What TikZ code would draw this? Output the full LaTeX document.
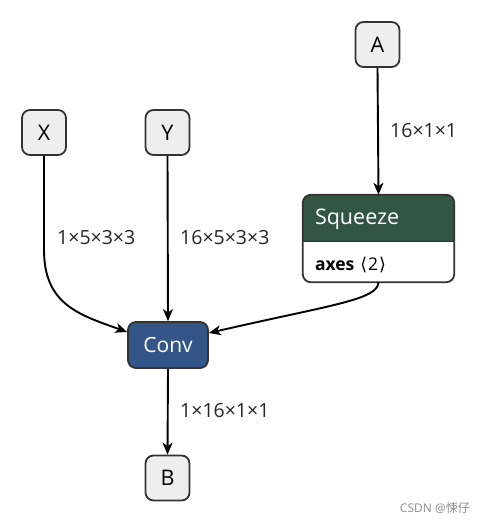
\documentclass[tikz,border=0pt]{standalone}
\usepackage{fontspec}
\setmainfont{Open Sans}
\newfontfamily\dejavu{DejaVu Sans}
\newfontfamily\cjk{Noto Sans CJK SC}
\usetikzlibrary{arrows.meta,calc}
\definecolor{boxfill}{HTML}{EEEEEE}
\definecolor{boxline}{HTML}{333333}
\definecolor{sqgreen}{HTML}{335544}
\definecolor{convblue}{HTML}{335588}
\begin{document}
\begin{tikzpicture}[x=1pt,y=-1pt,
  io/.style={draw=boxline,line width=1.8pt,fill=boxfill,rounded corners=8pt,minimum width=44pt,minimum height=45pt,inner sep=0pt,font=\fontsize{21.5}{25}\selectfont},
  opnode/.style={draw=boxline,line width=1.8pt,fill=convblue,rounded corners=8pt,minimum width=80pt,minimum height=46pt,inner sep=0pt,text=white,font=\fontsize{21}{25}\selectfont},
  edge/.style={line width=1.9pt,-{Stealth[length=12pt,width=10pt,inset=3.5pt]}},
  lbl/.style={font=\fontsize{19.5}{23}\selectfont,anchor=west,inner sep=0pt,text=black!85}]
\useasboundingbox (0,0) rectangle (484,524);
\node[io] (X) at (44,132.5) {X};
\node[io] (Y) at (167.5,132.5) {Y};
\node[io] (A) at (377.5,44.5) {A};
\node[io] (B) at (167.5,478) {B};
\node[opnode] (conv) at (168,345) {Conv};
% Squeeze node
\node[minimum width=151pt,minimum height=87pt,inner sep=0pt] (sq) at (378.5,238.5) {};
\begin{scope}
\clip[rounded corners=8pt] (sq.north west) rectangle (sq.south east);
\fill[white] (sq.north west) rectangle (sq.south east);
\fill[sqgreen] (sq.north west) rectangle ($(sq.north east)+(0,47)$);
\end{scope}
\draw[boxline,line width=1.2pt] ($(sq.north west)+(0,47)$) -- ($(sq.north east)+(0,47)$);
\draw[boxline,line width=1.8pt,rounded corners=8pt] (sq.north west) rectangle (sq.south east);
\node[anchor=west,inner sep=0pt,text=white,font=\fontsize{21.5}{25}\selectfont] (sqt) at ($(sq.north west)+(12,24)$) {Squeeze};
\node[anchor=west,inner sep=0pt,font=\fontsize{17.5}{21}\selectfont] (sqa) at ($(sq.north west)+(12,70)$) {\textbf{axes}\hspace{6pt}{\dejavu ⟨}\hspace{1pt}2\hspace{1pt}{\dejavu ⟩}};
% edges
\coordinate (cw) at ($(conv.west)+(0,-13)$);
\coordinate (ce) at ($(conv.east)+(0,-12)$);
\draw[edge] (X.south) -- (44,250) .. controls (44,305) and (80,315) .. (cw);
\draw[edge] (Y.south) -- (conv.north);
\draw[edge] (A.south) -- (sq.north);
\draw[edge] (sq.south) .. controls (378,300) and (330,305) .. (ce);
\draw[edge] (conv.south) -- (B.north);
% labels
\node[lbl] (l1) at (57,238) {1×5×3×3};
\node[lbl] (l2) at (180,238) {16×5×3×3};
\node[lbl] (l3) at (390,131) {16×1×1};
\node[lbl] (l4) at (180,411) {1×16×1×1};
\node[anchor=east,inner sep=0pt,text=black!45,font=\fontsize{12}{14}\selectfont] (wm) at (470,508) {CSDN @{\cjk 悚仔}};
\end{tikzpicture}
\end{document}
